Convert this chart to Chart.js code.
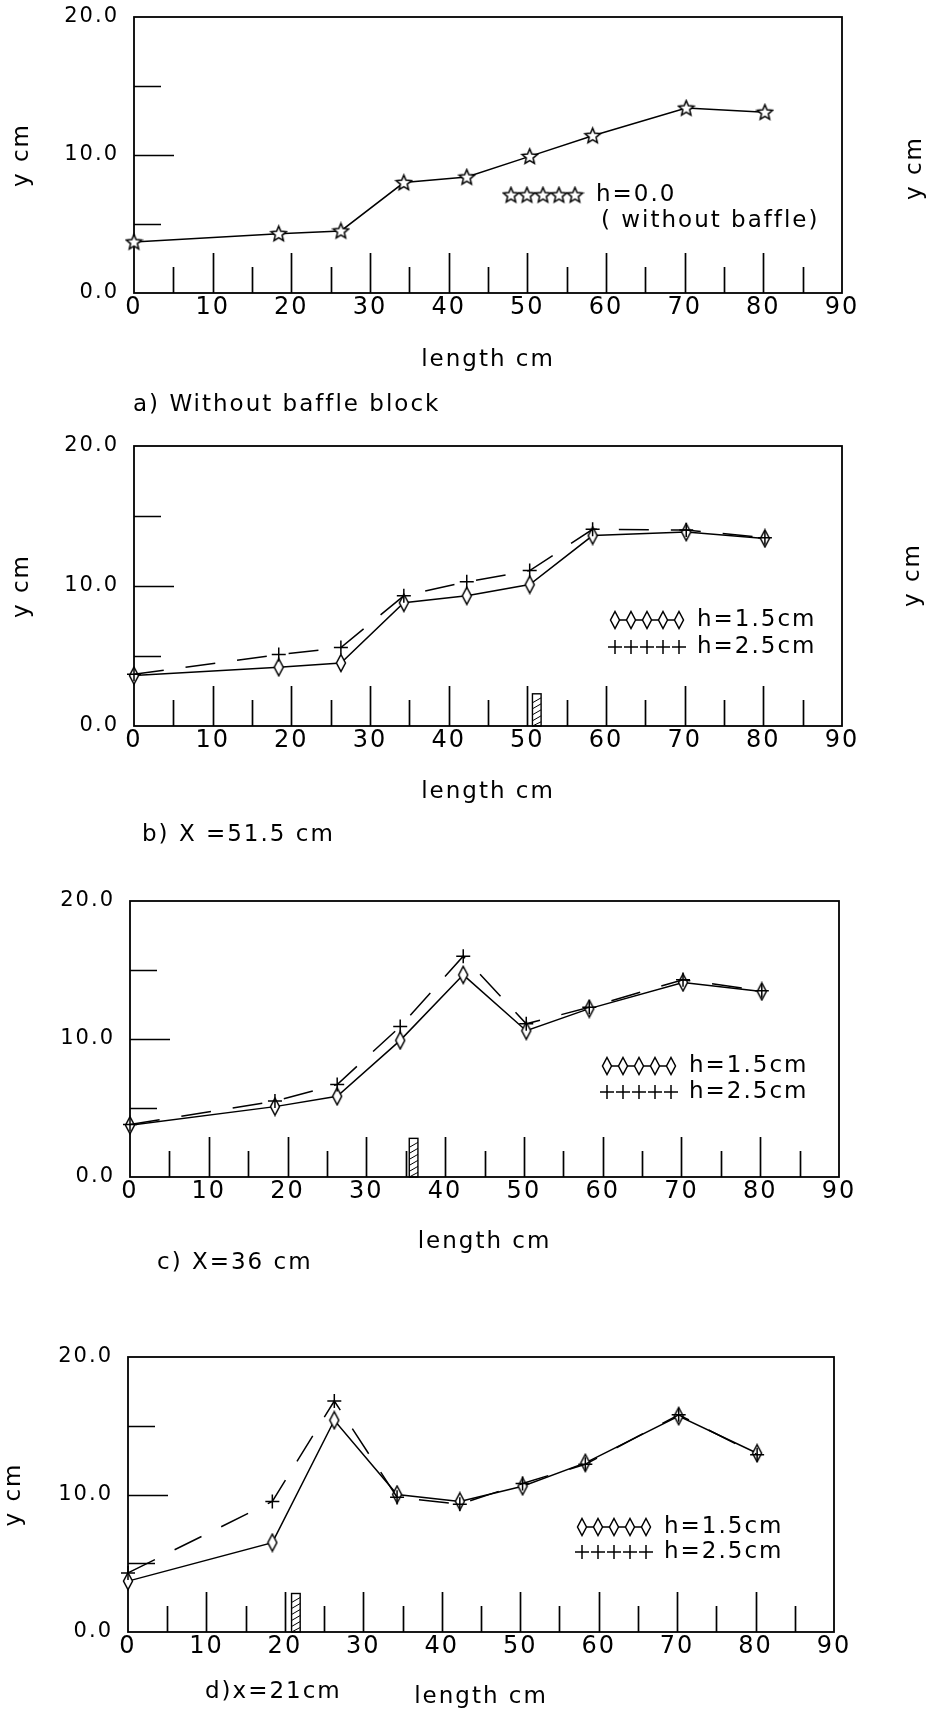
<!DOCTYPE html>
<html>
<head>
<meta charset="utf-8">
<title>Water surface profiles with and without baffle block</title>
<script src="https://cdn.jsdelivr.net/npm/chart.js@4.4.0/dist/chart.umd.min.js"></script>
<style>
  html, body { margin: 0; padding: 0; background: #fff; }
  #page { position: relative; width: 934px; height: 1713px; overflow: hidden; background: #fff; }
  #page canvas { position: absolute; left: 0; }
</style>
</head>
<body>
<div id="page">
  <canvas id="panelA" width="934" height="425" style="top:0px"></canvas>
  <canvas id="panelB" width="934" height="435" style="top:425px"></canvas>
  <canvas id="panelC" width="934" height="440" style="top:860px"></canvas>
  <canvas id="panelD" width="934" height="413" style="top:1300px"></canvas>
</div>
<script>
// ---- values ----
// measuring stations along the flume (cm)
const stationX = [0, 18.4, 26.3, 34.3, 42.3, 50.3, 58.3, 70.2, 80.2];

// a) without baffle block
const noBaffleY = [3.7, 4.3, 4.5, 8.0, 8.4, 9.9, 11.4, 13.4, 13.1];
// b) X = 51.5 cm
const x515H15 = [3.6, 4.2, 4.5, 8.8, 9.3, 10.1, 13.6, 13.85, 13.4];
const x515H25 = [3.7, 5.1, 5.6, 9.3, 10.3, 11.1, 14.05, 14.0, 13.45];
// c) X = 36 cm
const x36H15 = [3.75, 5.1, 5.85, 9.9, 14.65, 10.6, 12.2, 14.1, 13.45];
const x36H25 = [3.8, 5.5, 6.7, 10.9, 16.0, 11.1, 12.3, 14.3, 13.5];
// d) x = 21 cm
const x21H15 = [3.7, 6.5, 15.4, 10.0, 9.5, 10.6, 12.3, 15.7, 13.0];
const x21H25 = [4.3, 9.5, 16.8, 9.8, 9.3, 10.8, 12.2, 15.8, 12.9];

// axes
const xTickValues = [0, 10, 20, 30, 40, 50, 60, 70, 80, 90];
const xTickLabels = ['0', '10', '20', '30', '40', '50', '60', '70', '80', '90'];
const yTickValues = [0, 5, 10, 15, 20];
const yTickLabels = ['0.0', '', '10.0', '', '20.0'];
const innerXMarks = [5, 10, 15, 20, 25, 30, 35, 40, 45, 50, 55, 60, 65, 70, 75, 80, 85];
const innerYMarks = [5, 10, 15];

// baffle block (panels b, c, d): centre on the length axis and height in y units
const baffleX = [51.2, 36.0, 21.4];
const baffleTop = [2.3, 2.8, 2.8];
const baffleWidth = 1.1;

// ---- styling ----
const INK = '#000';
const FONT = '"DejaVu Sans", "Liberation Sans", sans-serif';
const LETTER_SPACING = '2px';
const TEXT_SIZE = 23;
const LEGEND_STEP = 16;

Chart.defaults.font.family = FONT;
Chart.defaults.color = INK;

/**
 * Marker images (outlined, white filled)
 */
function makeStar(r, lw) {
    const s = Math.ceil(2 * r + 2 * lw);
    const c = document.createElement('canvas');
    c.width = s; c.height = s;
    const g = c.getContext('2d');
    g.translate(s / 2, s / 2 + 0.5);
    g.beginPath();
    for (let k = 0; k < 10; k++) {
        const rr = k % 2 ? r * 0.45 : r;
        const ang = -Math.PI / 2 + k * Math.PI / 5;
        if (k === 0) g.moveTo(rr * Math.cos(ang), rr * Math.sin(ang));
        else g.lineTo(rr * Math.cos(ang), rr * Math.sin(ang));
    }
    g.closePath();
    g.fillStyle = '#fff';
    g.fill();
    g.lineWidth = lw;
    g.strokeStyle = INK;
    g.stroke();
    return c;
}

function makeDiamond(w, h, lw) {
    const c = document.createElement('canvas');
    c.width = Math.ceil(w + 2 * lw);
    c.height = Math.ceil(h + 2 * lw);
    const g = c.getContext('2d');
    g.translate(c.width / 2, c.height / 2);
    g.beginPath();
    g.moveTo(0, -h / 2);
    g.lineTo(w / 2, 0);
    g.lineTo(0, h / 2);
    g.lineTo(-w / 2, 0);
    g.closePath();
    g.fillStyle = '#fff';
    g.fill();
    g.lineWidth = lw;
    g.strokeStyle = INK;
    g.stroke();
    return c;
}

const starImg = makeStar(8, 1.5);
const diamondImg = makeDiamond(9, 17, 1.5);

/**
 * Panel layout (plot box and text anchors, in pixels relative to each canvas band)
 */
const panelSpecs = {
    panelA: {
        height: 425,
        area: { left: 134, right: 842, top: 17, bottom: 293 },
        series: [{ values: noBaffleY, mark: 'star', dashed: false }],
        yTitle: true, yTitlePad: 8, xTitlePad: 51,
        legendMarkX: 511, legendTextX: 596,
        legendRows: [
            { mark: 'star', text: 'h=0.0', y: 195 },
            { mark: null, text: '( without baffle)', y: 221, x: 601 }
        ],
        notes: [
            { text: 'a) Without baffle block', x: 133, y: 405 },
            { text: 'y cm', x: 915, y: 168, rotate: true }
        ],
        baffle: -1
    },
    panelB: {
        height: 435,
        area: { left: 134, right: 842, top: 21, bottom: 301 },
        series: [
            { values: x515H15, mark: 'diamond', dashed: false },
            { values: x515H25, mark: 'plus', dashed: true }
        ],
        yTitle: true, yTitlePad: 8, xTitlePad: 54,
        legendMarkX: 615, legendTextX: 697,
        legendRows: [
            { mark: 'diamond', text: 'h=1.5cm', y: 195 },
            { mark: 'plus', text: 'h=2.5cm', y: 222 }
        ],
        notes: [
            { text: 'b) X =51.5 cm', x: 142, y: 410 },
            { text: 'y cm', x: 913, y: 150, rotate: true }
        ],
        baffle: 0
    },
    panelC: {
        height: 440,
        area: { left: 130, right: 839, top: 41, bottom: 317 },
        series: [
            { values: x36H15, mark: 'diamond', dashed: false },
            { values: x36H25, mark: 'plus', dashed: true }
        ],
        yTitle: false, yTitlePad: 8, xTitlePad: 44,
        legendMarkX: 607, legendTextX: 689,
        legendRows: [
            { mark: 'diamond', text: 'h=1.5cm', y: 206 },
            { mark: 'plus', text: 'h=2.5cm', y: 232 }
        ],
        notes: [
            { text: 'c) X=36 cm', x: 157, y: 403 }
        ],
        baffle: 1
    },
    panelD: {
        height: 413,
        area: { left: 128, right: 834, top: 57, bottom: 332 },
        series: [
            { values: x21H15, mark: 'diamond', dashed: false },
            { values: x21H25, mark: 'plus', dashed: true }
        ],
        yTitle: true, yTitlePad: 0, xTitlePad: 2,
        legendMarkX: 582, legendTextX: 664,
        legendRows: [
            { mark: 'diamond', text: 'h=1.5cm', y: 227 },
            { mark: 'plus', text: 'h=2.5cm', y: 252 }
        ],
        notes: [
            { text: 'd)x=21cm', x: 205, y: 392 }
        ],
        baffle: 2
    }
};

function drawPlus(ctx, cx, cy, r) {
    ctx.moveTo(cx - r, cy);
    ctx.lineTo(cx + r, cy);
    ctx.moveTo(cx, cy - r);
    ctx.lineTo(cx, cy + r);
}

/**
 * Frame, inner tick marks, baffle block, legend and captions
 */
const panelDecor = {
    id: 'panelDecor',
    beforeDraw(chart) {
        chart.ctx.letterSpacing = LETTER_SPACING;
    },
    beforeDatasetsDraw(chart) {
        const spec = panelSpecs[chart.canvas.id];
        const { ctx, chartArea: a } = chart;
        const x = chart.scales.x;
        const y = chart.scales.y;
        ctx.save();
        ctx.strokeStyle = INK;
        ctx.lineWidth = 1.8;
        ctx.strokeRect(a.left, a.top, a.right - a.left, a.bottom - a.top);

        ctx.lineWidth = 1.7;
        ctx.beginPath();
        innerXMarks.forEach(v => {
            const px = Math.round(x.getPixelForValue(v)) + 0.5;
            const len = v % 10 === 0 ? 40 : 26;
            ctx.moveTo(px, a.bottom);
            ctx.lineTo(px, a.bottom - len);
        });
        innerYMarks.forEach(v => {
            const py = Math.round(y.getPixelForValue(v)) + 0.5;
            const len = v % 10 === 0 ? 40 : 27;
            ctx.moveTo(a.left, py);
            ctx.lineTo(a.left + len, py);
        });
        ctx.stroke();

        if (spec.baffle >= 0) {
            const bx = baffleX[spec.baffle];
            const x1 = x.getPixelForValue(bx - baffleWidth / 2);
            const x2 = x.getPixelForValue(bx + baffleWidth / 2);
            const y1 = y.getPixelForValue(baffleTop[spec.baffle]);
            const y0 = y.getPixelForValue(0);
            ctx.lineWidth = 1.4;
            ctx.strokeRect(x1, y1, x2 - x1, y0 - y1);
            ctx.beginPath();
            for (let k = y1 + 4; k < y0; k += 6) {
                ctx.moveTo(x1, Math.min(k + 5, y0));
                ctx.lineTo(x2, k);
            }
            ctx.lineWidth = 1;
            ctx.stroke();
        }
        ctx.restore();
    },
    afterDraw(chart) {
        const spec = panelSpecs[chart.canvas.id];
        const ctx = chart.ctx;
        ctx.save();
        ctx.letterSpacing = LETTER_SPACING;
        ctx.fillStyle = INK;
        ctx.strokeStyle = INK;
        ctx.textBaseline = 'middle';
        ctx.textAlign = 'left';
        ctx.font = TEXT_SIZE + 'px ' + FONT;

        // legend rows
        spec.legendRows.forEach(row => {
            const first = spec.legendMarkX;
            const last = first + LEGEND_STEP * 4;
            if (row.mark === 'diamond') {
                ctx.lineWidth = 1.5;
                ctx.beginPath();
                ctx.moveTo(first, row.y);
                ctx.lineTo(last, row.y);
                ctx.stroke();
            }
            if (row.mark === 'plus') {
                ctx.lineWidth = 1.5;
                ctx.beginPath();
                for (let i = 0; i < 5; i++) drawPlus(ctx, first + i * LEGEND_STEP, row.y, 7);
                ctx.stroke();
            }
            if (row.mark === 'star' || row.mark === 'diamond') {
                const img = row.mark === 'star' ? starImg : diamondImg;
                for (let i = 0; i < 5; i++) {
                    ctx.drawImage(img, first + i * LEGEND_STEP - img.width / 2, row.y - img.height / 2);
                }
            }
            ctx.fillText(row.text, row.x || spec.legendTextX, row.y);
        });

        // captions and cut-off axis title of the neighbouring figure
        spec.notes.forEach(n => {
            ctx.save();
            ctx.translate(n.x, n.y);
            if (n.rotate) {
                ctx.rotate(-Math.PI / 2);
                ctx.textAlign = 'center';
            }
            ctx.fillText(n.text, 0, 0);
            ctx.restore();
        });
        ctx.restore();
    }
};

/**
 * Build one panel
 */
function buildPanel(id) {
    const spec = panelSpecs[id];
    const datasets = spec.series.map(s => {
        const ds = {
            data: stationX.map((xv, i) => ({ x: xv, y: s.values[i] })),
            borderColor: INK,
            backgroundColor: '#fff',
            borderWidth: 1.5,
            borderDash: s.dashed ? [30, 22] : [],
            tension: 0,
            fill: false,
            clip: false,
            order: s.dashed ? 1 : 2
        };
        if (s.mark === 'plus') {
            ds.pointStyle = 'cross';
            ds.pointRadius = 7;
            ds.pointHoverRadius = 7;
            ds.pointBorderWidth = 1.5;
            ds.pointBorderColor = INK;
        } else {
            ds.pointStyle = s.mark === 'star' ? starImg : diamondImg;
            ds.pointRadius = 6;
            ds.pointHoverRadius = 6;
        }
        return ds;
    });

    return new Chart(document.getElementById(id), {
        type: 'line',
        data: { datasets },
        plugins: [panelDecor],
        options: {
            responsive: false,
            animation: false,
            devicePixelRatio: 1,
            events: [],
            layout: {
                padding: { left: 0, right: 934 - spec.area.right, top: spec.area.top, bottom: 0 }
            },
            plugins: {
                legend: { display: false },
                tooltip: { enabled: false },
                title: { display: false }
            },
            scales: {
                x: {
                    type: 'linear',
                    position: 'bottom',
                    min: 0,
                    max: 90,
                    grid: { display: false, drawTicks: false },
                    border: { display: false },
                    afterBuildTicks: scale => {
                        scale.ticks = xTickValues.map(v => ({ value: v }));
                    },
                    ticks: {
                        autoSkip: false,
                        maxRotation: 0,
                        padding: 0,
                        color: INK,
                        font: { size: 24 },
                        callback: (value, index) => xTickLabels[index]
                    },
                    title: {
                        display: true,
                        text: 'length cm',
                        color: INK,
                        font: { size: TEXT_SIZE },
                        padding: { top: 0, bottom: spec.xTitlePad }
                    },
                    afterFit: scale => {
                        scale.height = spec.height - spec.area.bottom;
                        scale.paddingLeft = 0;
                        scale.paddingRight = 0;
                    }
                },
                y: {
                    type: 'linear',
                    position: 'left',
                    min: 0,
                    max: 20,
                    grid: { display: false, drawTicks: false },
                    border: { display: false },
                    afterBuildTicks: scale => {
                        scale.ticks = yTickValues.map(v => ({ value: v }));
                    },
                    ticks: {
                        autoSkip: false,
                        padding: 15,
                        color: INK,
                        font: { size: 21 },
                        callback: (value, index) => yTickLabels[index]
                    },
                    title: {
                        display: spec.yTitle,
                        text: 'y cm',
                        color: INK,
                        font: { size: TEXT_SIZE },
                        padding: { top: spec.yTitlePad, bottom: 0 }
                    },
                    afterFit: scale => {
                        scale.width = spec.area.left;
                        scale.paddingTop = 0;
                        scale.paddingBottom = 0;
                    }
                }
            }
        }
    });
}

const charts = Object.keys(panelSpecs).map(buildPanel);
</script>
</body>
</html>
